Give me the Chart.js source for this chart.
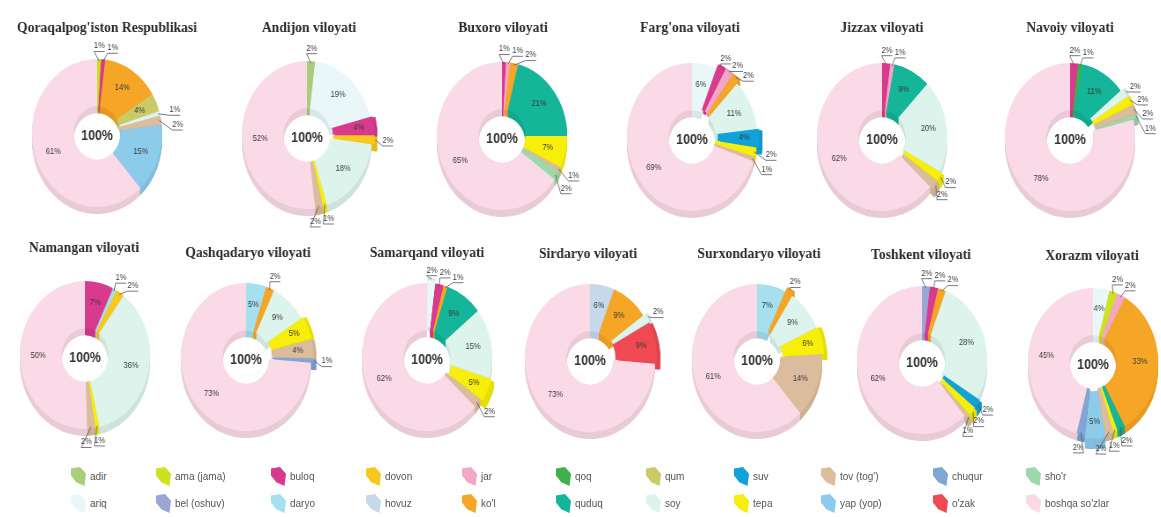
<!DOCTYPE html>
<html><head><meta charset="utf-8">
<script src="https://cdn.jsdelivr.net/npm/chart.js@4.4.1/dist/chart.umd.min.js"></script>
<style>
html,body{margin:0;padding:0;background:#fff;width:1161px;height:517px;overflow:hidden;position:relative;font-family:"Liberation Sans",Arial,sans-serif;}
.wrap{position:absolute;transform-origin:50% 0;}
.wrap canvas{display:block;}
.leg{position:absolute;font-size:10px;color:#555;white-space:nowrap;line-height:12px;}
.ico{position:absolute;width:15px;height:19px;clip-path:polygon(0 8%,60% 0,100% 35%,90% 100%,35% 80%,0 45%);}
</style></head><body>
<script>
// ---- DATA ----
const categories = ["adir","ariq","ama (jama)","bel (oshuv)","buloq","daryo","dovon","hovuz","jar","ko'l","qoq","quduq","qum","soy","suv","tepa","tov (tog')","yap (yop)","chuqur","o'zak","sho'r","boshqa so'zlar"];
const regionNames = ["Qoraqalpog'iston Respublikasi","Andijon viloyati","Buxoro viloyati","Farg'ona viloyati","Jizzax viloyati","Navoiy viloyati","Namangan viloyati","Qashqadaryo viloyati","Samarqand viloyati","Sirdaryo viloyati","Surxondaryo viloyati","Toshkent viloyati","Xorazm viloyati"];
const qoraqalpogiston = [0,0,1,0,1,0,0,0,0,14,0,0,4,1,0,0,2,15,0,0,0,61];
const andijon        = [2,19,0,0,4,0,2,0,0,0,0,0,0,18,0,1,2,0,0,0,0,52];
const buxoro         = [0,0,0,0,1,0,0,0,1,2,0,21,0,0,0,7,1,0,0,0,2,65];
const fargona        = [0,6,0,0,2,0,0,0,2,2,0,0,0,11,4,2,1,0,0,0,0,69];
const jizzax         = [0,0,0,0,2,0,0,0,1,0,0,9,0,20,0,2,2,0,0,0,0,62];
const navoiy         = [0,0,0,0,2,0,0,0,0,0,1,11,0,2,0,2,2,0,0,0,1,78];
const namangan       = [0,0,0,0,7,1,2,0,0,0,0,0,0,36,0,1,2,0,0,0,0,50];
const qashqadaryo    = [0,0,0,0,0,5,0,0,0,2,0,0,0,9,0,5,4,0,1,0,0,73];
const samarqand      = [0,2,0,0,2,0,0,0,0,1,0,9,0,15,0,5,2,0,0,0,0,62];
const sirdaryo       = [0,0,0,0,0,0,0,6,0,9,0,0,0,2,0,0,0,0,0,9,0,73];
const surxondaryo    = [0,0,0,0,0,7,0,0,0,2,0,0,0,9,0,6,14,0,0,0,0,61];
const toshkent       = [0,0,0,2,2,0,0,0,0,2,0,0,0,28,2,2,1,0,0,0,0,62];
const xorazm         = [0,4,2,0,0,0,0,0,2,33,0,2,0,0,0,1,2,5,2,0,0,45];
const centerLabel = "100%";

// ---- STYLE / LAYOUT ----
const colors = ["#a9cd7a","#eaf7f9","#cfe021","#9ba6d6","#d93a8d","#a6dfee","#f7c91f","#c6d9ea","#f3a6c5","#f6a626","#3eb14c","#14b598","#cbca68","#dcf4ec","#11a2d9","#f7ee0a","#dbbd9e","#8dcbea","#7fa6d5","#ef4a54","#9bd8aa","#f9dae6"];
const seriesList = [qoraqalpogiston,andijon,buxoro,fargona,jizzax,navoiy,namangan,qashqadaryo,samarqand,sirdaryo,surxondaryo,toshkent,xorazm];
// [donut cx, donut cy, title cx, title cy]
const place = [
  [97,133,107,28],[307,135,309,28],[502,136,503,28],[692,137,690,28],[882,137,882,28],[1070,137,1070,28],
  [85,355,84,248],[246,357,248,253],[427,357,427,253],[590,358,588,254],[757,358,759,254],[922,360,921,255],[1093,362,1092,256]
];
const explode = [[],["buloq","dovon"],[],["buloq","jar","ko'l","suv"],["tepa","tov (tog')"],["soy","tepa","tov (tog')","sho'r"],[],["tepa","tov (tog')","chuqur"],["ariq","tepa"],["soy","o'zak"],["ko'l","tepa"],["suv","tepa","tov (tog')"],["yap (yop)"]];
const S = 0.88, R = 74, DEPTH = 7, CW = 260, OFF = 6;

function shade(hex,f){const n=parseInt(hex.slice(1),16);const r=Math.round(((n>>16)&255)*f),g=Math.round(((n>>8)&255)*f),b=Math.round((n&255)*f);return `rgb(${r},${g},${b})`;}

const depthPlugin = {
  id:'depth',
  beforeDatasetsDraw(chart){
    const ctx=chart.ctx, meta=chart.getDatasetMeta(0), ds=chart.data.datasets[0];
    meta.data.forEach((arc,i)=>{
      if(!ds.data[i]) return;
      const p=arc.getProps(['x','y','startAngle','endAngle','outerRadius','innerRadius'],true);
      const off=arc.options.offset||0, mid=(p.startAngle+p.endAngle)/2;
      const ox=Math.cos(mid)*off, oy=Math.sin(mid)*off;
      ctx.save(); ctx.fillStyle=shade(ds.backgroundColor[i],0.93);
      for(let d=DEPTH; d>=1; d--){
        ctx.beginPath();
        ctx.arc(p.x+ox,p.y+oy+d,p.outerRadius,p.startAngle,p.endAngle);
        ctx.arc(p.x+ox,p.y+oy+d,p.innerRadius,p.endAngle,p.startAngle,true);
        ctx.closePath(); ctx.fill();
      }
      ctx.restore();
    });
  }
};

const labelPlugin = {
  id:'labels',
  afterDatasetsDraw(chart,args,opts){
    const ctx=chart.ctx, meta=chart.getDatasetMeta(0), data=chart.data.datasets[0].data;
    let X=0,Y=0; const outs=[];
    ctx.save();
    ctx.font='8.5px "Liberation Sans", Arial, sans-serif';
    ctx.fillStyle='#3a3a3a'; ctx.textAlign='center'; ctx.textBaseline='middle';
    meta.data.forEach((arc,i)=>{
      const v=data[i];
      const p=arc.getProps(['x','y','startAngle','endAngle','outerRadius','innerRadius'],true);
      X=p.x; Y=p.y;
      if(!v) return;
      const off=arc.options.offset||0, mid=(p.startAngle+p.endAngle)/2;
      const cx=p.x+Math.cos(mid)*off, cy=p.y+Math.sin(mid)*off;
      if(v>=4){
        const r=(p.innerRadius+p.outerRadius)/2+3;
        ctx.fillText(v+'%',cx+Math.cos(mid)*r,cy+Math.sin(mid)*r);
      } else outs.push({v,mid,cx,cy,R:p.outerRadius});
    });
    const rl=R+13, gap=15/rl;
    outs.sort((a,b)=>a.mid-b.mid);
    let prev=-1e9;
    outs.forEach(o=>{let a=o.mid; if(a<prev+gap) a=prev+gap; prev=a; o.la=a;});
    ctx.strokeStyle='#556'; ctx.lineWidth=0.8;
    outs.forEach(o=>{
      const c=Math.cos(o.la), s=Math.sin(o.la);
      const lx=X+c*(rl+5*Math.abs(c)), ly=Y+s*rl;
      ctx.fillText(o.v+'%',lx,ly);
      ctx.beginPath();
      ctx.moveTo(lx-6,ly+5.5); ctx.lineTo(lx+6,ly+5.5);
      const ex=o.cx+Math.cos(o.mid)*(o.R-2), ey=o.cy+Math.sin(o.mid)*(o.R-2);
      const tx= c>=0 ? lx-6 : lx+6;
      ctx.moveTo(ex,ey); ctx.lineTo(tx,ly+5.5);
      ctx.stroke();
    });
    ctx.font='bold 14px "Liberation Sans", Arial, sans-serif';
    ctx.fillStyle='#333';
    ctx.fillText(centerLabel,X,Y+3);
    // title
    ctx.font='bold 15.5px "Liberation Serif", "DejaVu Serif", serif';
    ctx.fillStyle='#2b2b2b';
    ctx.fillText(opts.title, CW/2+opts.tdx, opts.ty);
    ctx.restore();
  }
};

seriesList.forEach((vals,k)=>{
  const [cx,cy,tx,ty]=place[k];
  const top=ty-14;
  const offs=categories.map(c=>explode[k].includes(c)?OFF:0);
  const maxO=Math.max(...offs);
  const areaTop=cy-R-maxO/2;
  const padTop=areaTop-top;
  const CH=padTop+2*R+maxO+34;
  const wrap=document.createElement('div');
  wrap.className='wrap';
  wrap.style.left=(cx-CW/2)+'px'; wrap.style.top=top+'px';
  wrap.style.width=CW+'px'; wrap.style.height=CH+'px';
  wrap.style.transform=`scaleX(${S})`;
  const cv=document.createElement('canvas'); cv.width=CW; cv.height=CH;
  wrap.appendChild(cv); document.body.appendChild(wrap);
  new Chart(cv,{
    type:'doughnut',
    data:{labels:categories,datasets:[{data:vals,backgroundColor:colors,borderWidth:0,offset:offs}]},
    options:{responsive:false,animation:false,cutout:'36%',
      layout:{padding:{top:padTop,bottom:CH-padTop-2*R-maxO,left:0,right:0}},
      plugins:{legend:{display:false},tooltip:{enabled:false},title:{display:false},
        labels:{title:regionNames[k],tdx:(tx-cx)/S,ty:ty-top}}},
    plugins:[depthPlugin,labelPlugin]
  });
});

// ---- LEGEND (HTML, built from categories/colors) ----
const legendX=[90,175,290,385,481,575,665,753,840,952,1045];
const legendY=[477,504];
categories.forEach((c,i)=>{
  const col=Math.floor(i/2), row=i%2;
  const ic=document.createElement('div'); ic.className='ico';
  ic.style.background=colors[i]; ic.style.left=(legendX[col]-19)+'px'; ic.style.top=(legendY[row]-10)+'px';
  document.body.appendChild(ic);
  const t=document.createElement('div'); t.className='leg'; t.textContent=c;
  t.style.left=legendX[col]+'px'; t.style.top=(legendY[row]-6)+'px';
  document.body.appendChild(t);
});
</script>
</body></html>
